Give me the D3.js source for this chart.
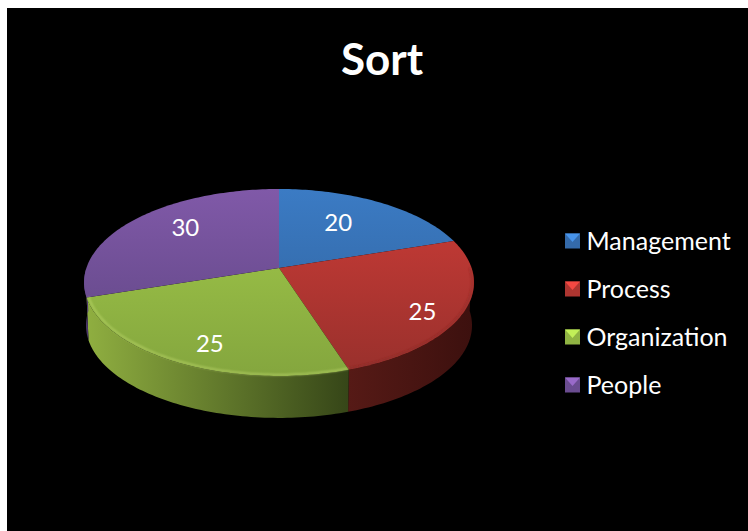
<!DOCTYPE html>
<html>
<head>
<meta charset="utf-8">
<script src="https://cdn.jsdelivr.net/npm/d3@7"></script>
<style>
html, body { margin: 0; padding: 0; background: #fff; }
svg { display: block; }
text { font-family: Lato, "Open Sans", sans-serif; fill: #fff; }
</style>
</head>
<body>
<div id="chart"></div>
<script>
var categories = ["Management", "Process", "Organization", "People"];
var values = [20, 25, 25, 30];
var topLight = ["#3b7bc4", "#cc3c37", "#a2c94a", "#8059a8"];
var topDark = ["#2f5f98", "#98302c", "#84a63e", "#5c4480"];
var wallLight = ["#2f5f98", "#561a16", "#8fae40", "#4a3668"];
var wallDark = ["#1c3a5c", "#3c100e", "#364618", "#3a2a52"];

var width = 748, height = 531;
var cx = 279, cy = 268;       // where the slices meet
var a = 192.6, b = 91.25, k = 0.155;  // tilted disc
var depth = 42;

// unit disc -> screen, with a little perspective so the centre sits above the ellipse middle
var project = function(angle, r, scale) {
    var s = scale === undefined ? 1 : scale;
    var u = Math.sin(angle) * r, v = -Math.cos(angle) * r;
    var w = 1 - k * v;
    return [cx + s * a * u / w, cy + s * b * v / w];
};

var sampleArc = function(start, end, r, scale, dy) {
    var n = Math.max(2, Math.ceil((end - start) / 0.02));
    return d3.range(n + 1).map(function(i) {
        var p = project(start + (end - start) * i / n, r, scale);
        return [p[0], p[1] + (dy || 0)];
    });
};

var line = d3.line();
var arcs = d3.pie().sort(null)(values);

var svg = d3.select("#chart").append("svg")
    .attr("width", width)
    .attr("height", height);
var defs = svg.append("defs");

svg.append("rect")
    .attr("x", 7).attr("y", 8)
    .attr("width", width - 7)
    .attr("height", height - 8)
    .attr("fill", "#000");

defs.append("filter").attr("id", "soft")
    .append("feGaussianBlur").attr("stdDeviation", 1);

arcs.forEach(function(d, i) {
    var g = defs.append("linearGradient").attr("id", "top" + i)
        .attr("gradientUnits", "userSpaceOnUse")
        .attr("x1", 0).attr("x2", 0).attr("y1", 189).attr("y2", 376);
    g.append("stop").attr("offset", 0).attr("stop-color", topLight[i]);
    g.append("stop").attr("offset", 1).attr("stop-color", topDark[i]);

    var h = defs.append("linearGradient").attr("id", "wall" + i)
        .attr("gradientUnits", "userSpaceOnUse")
        .attr("y1", 0).attr("y2", 0);
    if (i == 2) {
        h.attr("x1", 88).attr("x2", 348);
    } else {
        h.attr("x1", 348).attr("x2", 474);
    }
    h.append("stop").attr("offset", 0).attr("stop-color", wallLight[i]);
    h.append("stop").attr("offset", 1).attr("stop-color", wallDark[i]);
});

// front walls: only the parts of the rim that face the viewer
var frontStart = Math.PI / 2, frontEnd = 3 * Math.PI / 2;
var bottomScale = 0.99;
arcs.forEach(function(d, i) {
    var s = Math.max(d.startAngle, frontStart), e = Math.min(d.endAngle, frontEnd);
    if (s >= e) return;
    var upper = sampleArc(s, e, 1);
    var lower = sampleArc(s, e, 1, bottomScale, depth + 1).reverse();
    svg.append("path")
        .attr("d", line(upper.concat(lower)) + "Z")
        .attr("fill", "url(#wall" + i + ")");
});

// top surface
arcs.forEach(function(d, i) {
    var pts = [[cx, cy]].concat(sampleArc(d.startAngle, d.endAngle, 1));
    svg.append("path")
        .attr("d", line(pts) + "Z")
        .attr("fill", "url(#top" + i + ")");
});

// bevel along the front edge of the top
var rimColors = [null, "#7a2420", "#c4de72", null];
var rimOpacity = [0, 0.5, 0.7, 0];
arcs.forEach(function(d, i) {
    if (!rimColors[i]) return;
    svg.append("path")
        .attr("d", line(sampleArc(Math.max(d.startAngle, frontStart), d.endAngle, 0.99)))
        .attr("fill", "none")
        .attr("stroke", rimColors[i])
        .attr("stroke-opacity", rimOpacity[i])
        .attr("stroke-width", 1.5)
        .attr("filter", "url(#soft)");
});

// labels
var labelRadius = [0.58, 0.8, 0.75, 0.6];
var labelShiftX = [-2, -2, 4, -5];
var labelShiftY = [-5, 8, 8, -10];
arcs.forEach(function(d, i) {
    var p = project((d.startAngle + d.endAngle) / 2, labelRadius[i]);
    svg.append("text")
        .attr("x", p[0] + labelShiftX[i]).attr("y", p[1] + labelShiftY[i])
        .attr("dy", ".35em")
        .attr("text-anchor", "middle")
        .attr("font-size", 24)
        .text(values[i]);
});

svg.append("text")
    .attr("x", 382).attr("y", 75)
    .attr("text-anchor", "middle")
    .attr("font-size", 44)
    .attr("font-weight", 700)
    .text("Sort");

// legend
var legendY = d3.scalePoint().domain(categories).range([241, 385]);
var box = 15;
var legend = svg.selectAll(".legend")
    .data(categories)
    .enter().append("g")
    .attr("class", "legend")
    .attr("transform", function(d) { return "translate(565," + legendY(d) + ")"; });

legend.append("rect")
    .attr("y", -box / 2)
    .attr("width", box).attr("height", box)
    .attr("fill", function(d, i) { return d3.interpolateRgb(topLight[i], topDark[i])(0.6); });
legend.append("path")
    .attr("d", line([[0, -box / 2], [box, -box / 2], [box / 2, 1]]) + "Z")
    .attr("fill", function(d, i) { return d3.color(topLight[i]).brighter(0.5); });
legend.append("text")
    .attr("x", 21.5)
    .attr("dy", ".35em")
    .attr("font-size", 25)
    .text(function(d) { return d; });
</script>
</body>
</html>
